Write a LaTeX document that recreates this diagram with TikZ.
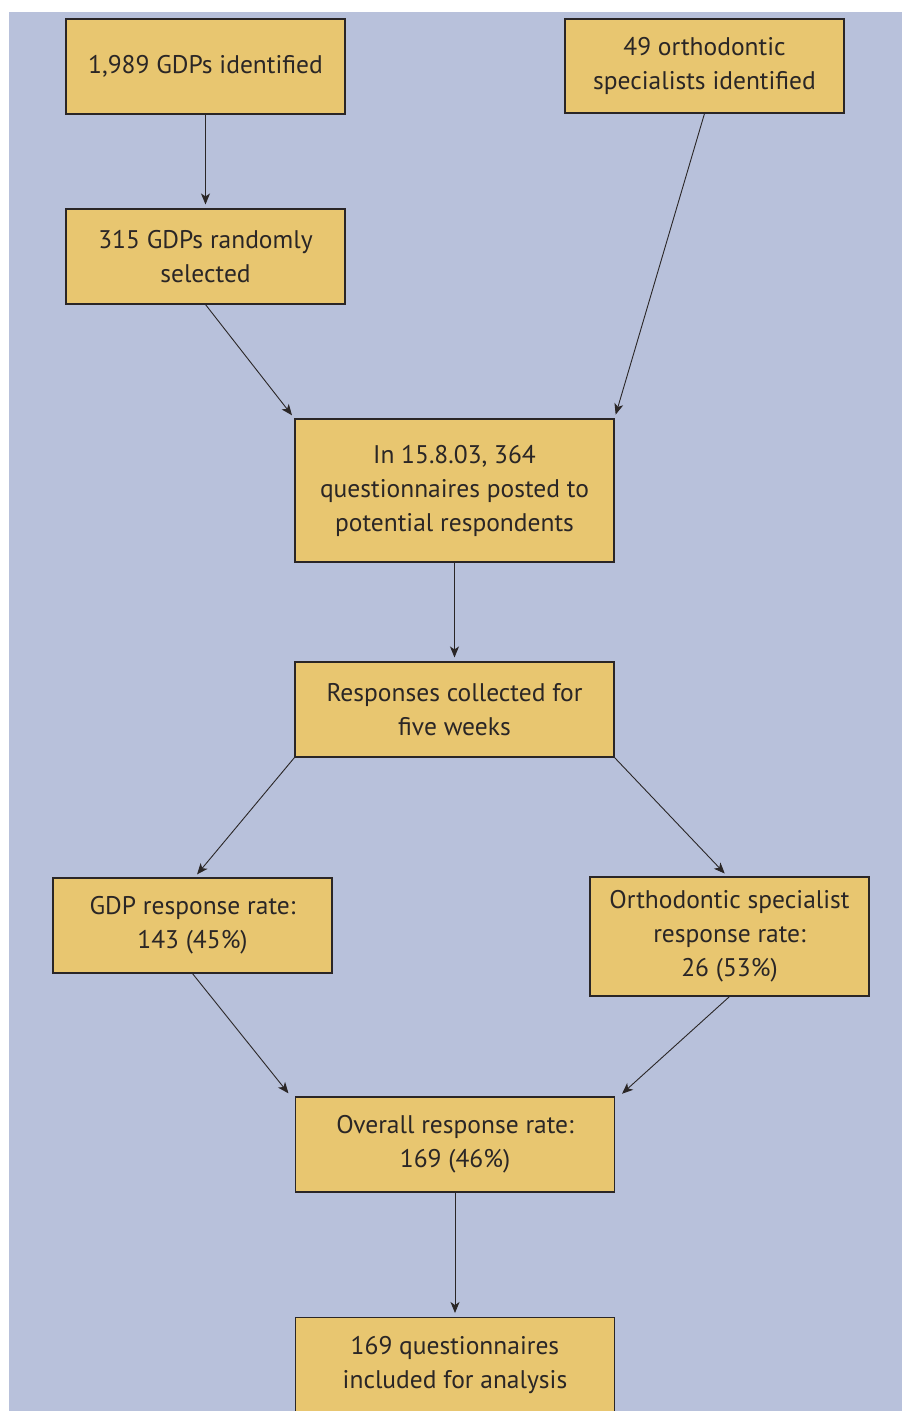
\documentclass[tikz,border=0pt]{standalone}
\usepackage{fontspec}
\setmainfont{PT Sans}
\usetikzlibrary{arrows.meta}
\definecolor{bgblue}{HTML}{B8C1DB}
\definecolor{boxfill}{HTML}{E8C670}
\definecolor{linecol}{HTML}{2A2626}
\tikzset{
  flowbox/.style={draw=linecol, fill=boxfill, line width=1.1pt, minimum width=279pt, inner sep=0pt, align=center, font=\fontsize{25.5}{34}\selectfont, text=linecol},
  widebox/.style={flowbox, minimum width=319pt},
  conn/.style={draw=linecol, line width=0.9pt, -{Stealth[length=11pt,width=9pt,inset=3pt]}, shorten >=4pt}
}
\begin{document}
\begin{tikzpicture}[x=1pt,y=1pt]
\useasboundingbox (0,0) rectangle (902,-1411);
\clip (0,0) rectangle (902,-1411);
\fill[white] (0,0) rectangle (902,-1411);
\fill[bgblue] (9,-12) rectangle (902,-1411);
\node[flowbox, minimum height=95pt] (gdp) at (205.5,-66.5) {1,989 GDPs identified};
\node[flowbox, minimum height=94pt] (orth) at (704.5,-66) {49 orthodontic\\specialists identified};
\node[flowbox, minimum height=95pt] (rand) at (205.5,-256.5) {315 GDPs randomly\\selected};
\node[widebox, minimum height=143pt] (post) at (454.5,-490.5) {In 15.8.03, 364\\questionnaires posted to\\potential respondents};
\node[widebox, minimum height=95pt] (resp) at (454.5,-709.5) {Responses collected for\\five weeks};
\node[flowbox, minimum height=95pt] (gdpr) at (192.5,-925.5) {GDP response rate:\\143 (45\%)};
\node[flowbox, minimum height=119pt] (orthr) at (729.5,-936.5) {Orthodontic specialist\\response rate:\\26 (53\%)};
\node[widebox, minimum height=95pt] (overall) at (455,-1144.5) {Overall response rate:\\169 (46\%)};
\node[widebox, minimum height=95pt, anchor=north] (incl) at (455,-1317) {169 questionnaires\\included for analysis};
\draw[conn] (gdp.south) -- (rand.north);
\draw[conn] (rand.south) -- (post.north west);
\draw[conn] (orth.south) -- (post.north east);
\draw[conn] (post.south) -- (resp.north);
\draw[conn] (resp.south west) -- ([xshift=2pt]gdpr.north);
\draw[conn] (resp.south east) -- ([xshift=-2pt]orthr.north);
\draw[conn] (gdpr.south) -- ([xshift=-4pt]overall.north west);
\draw[conn] (orthr.south) -- ([xshift=4pt]overall.north east);
\draw[conn] (overall.south) -- (incl.north);
\end{tikzpicture}
\end{document}
